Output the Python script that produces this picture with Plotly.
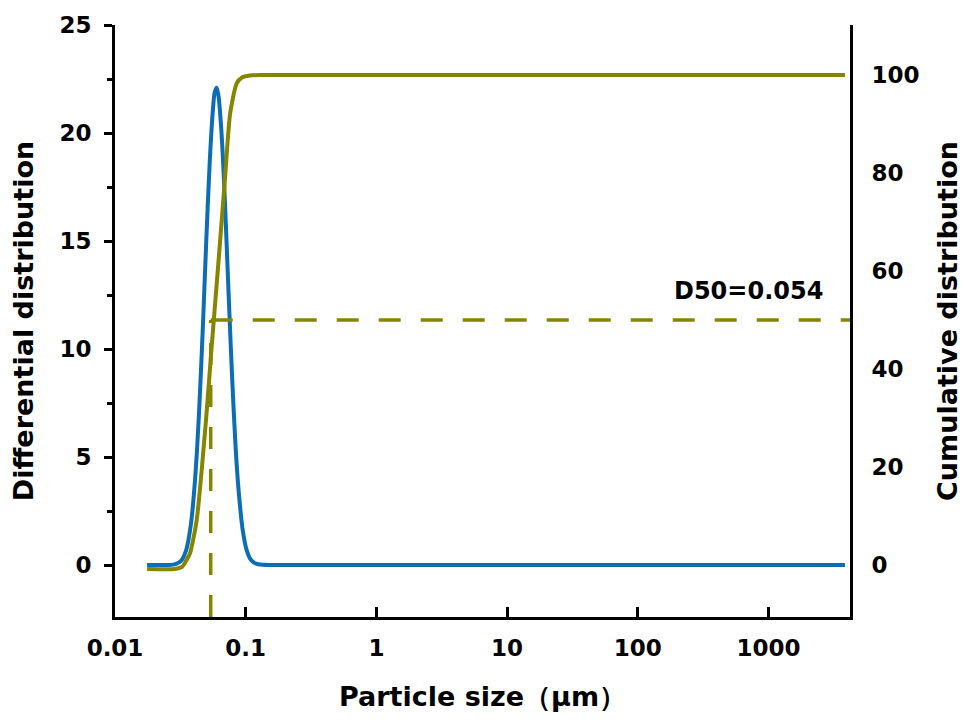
import plotly.graph_objects as go

# Particle size grid (µm) and differential distribution
size_diff = [0.0176, 0.022, 0.026, 0.029, 0.032, 0.035, 0.038, 0.041, 0.044, 0.047,
             0.050, 0.053, 0.056, 0.058, 0.060, 0.062, 0.065, 0.068, 0.071, 0.075,
             0.079, 0.084, 0.089, 0.095, 0.102, 0.110, 0.120, 0.135, 0.16, 0.3,
             1, 10, 100, 1000, 3850]
differential = [0, 0, 0, 0.04, 0.19, 0.68, 1.84, 3.96, 7.1, 11.0,
                15.1, 18.6, 21.0, 21.9, 22.1, 21.7, 20.2, 18.0, 15.3, 11.7,
                8.5, 5.3, 3.2, 1.6, 0.67, 0.23, 0.06, 0.01, 0, 0,
                0, 0, 0, 0, 0]

# Cumulative distribution (%)
size_cum = [0.0176, 0.0288, 0.0326, 0.0349, 0.0375, 0.0422, 0.0497, 0.0549, 0.0607,
            0.0695, 0.0759, 0.0853, 0.0937, 0.108, 0.13, 1, 10, 100, 1000, 3850]
cumulative = [-0.8, -0.8, -0.4, 0.8, 2.4, 9.2, 29.6, 44.5, 59,
              79, 92, 98.3, 99.5, 99.9, 100, 100, 100, 100, 100, 100]

d50 = 0.054
d50_level = 50
x_ticks = [0.01, 0.1, 1, 10, 100, 1000]
x_tick_text = ["0.01", "0.1", "1", "10", "100", "1000"]

BLUE = "#0b6db4"
OLIVE = "#858500"
FONT = "DejaVu Sans"

x_log_range = [-2, 3.624]
y_left_range = [-2.407, 25]
y_right_range = [-10.61, 110.2]

fig = go.Figure()

# D50 guide lines
fig.add_trace(go.Scatter(
    x=[d50, d50], y=[y_right_range[0], d50_level], yaxis="y2", mode="lines",
    line=dict(color=OLIVE, width=3.5, dash="22px,20px"), showlegend=False, hoverinfo="skip"))
fig.add_trace(go.Scatter(
    x=[d50, 10 ** x_log_range[1]], y=[d50_level, d50_level], yaxis="y2", mode="lines",
    line=dict(color=OLIVE, width=3.5, dash="22px,20px"), showlegend=False, hoverinfo="skip"))

fig.add_trace(go.Scatter(
    x=size_cum, y=cumulative, yaxis="y2", mode="lines",
    line=dict(color=OLIVE, width=4, shape="spline", smoothing=0.6),
    name="Cumulative distribution", showlegend=False))
fig.add_trace(go.Scatter(
    x=size_diff, y=differential, yaxis="y", mode="lines",
    line=dict(color=BLUE, width=4, shape="spline", smoothing=0.8),
    name="Differential distribution", showlegend=False))

fig.add_annotation(
    x=3.43, y=56, xref="x", yref="y2", text="D50=0.054", showarrow=False,
    xanchor="right", yanchor="middle",
    font=dict(family=FONT, size=24, color="black", weight="bold"))

fig.update_layout(
    width=975, height=724,
    margin=dict(l=115, r=125, t=25, b=107),
    paper_bgcolor="white", plot_bgcolor="white",
    font=dict(family=FONT, size=23, color="black", weight="bold"),
    xaxis=dict(
        type="log", range=x_log_range, tickvals=x_ticks, ticktext=x_tick_text,
        showline=True, linecolor="black", linewidth=3, mirror=False,
        ticks="inside", ticklen=10, tickwidth=3, tickcolor="black",
        ticklabelstandoff=8,
        showgrid=False, zeroline=False,
        title=dict(text="Particle size（μm）", font=dict(size=27, weight="bold"), standoff=28),
    ),
    yaxis=dict(
        range=y_left_range, tick0=0, dtick=5,
        showline=True, linecolor="black", linewidth=3,
        ticks="outside", ticklen=8, tickwidth=3, tickcolor="black",
        minor=dict(ticks="outside", ticklen=5, tickwidth=3, tickcolor="black", dtick=2.5, tick0=0),
        ticklabelstandoff=8,
        showgrid=False, zeroline=False,
        title=dict(text="Differential distribution", font=dict(size=27, weight="bold"), standoff=18),
    ),
    yaxis2=dict(
        range=y_right_range, tick0=0, dtick=20, overlaying="y", side="right",
        showline=True, linecolor="black", linewidth=3,
        ticks="outside", ticklen=14, tickwidth=1, tickcolor="rgba(0,0,0,0)",
        showgrid=False, zeroline=False,
        title=dict(text="Cumulative distribution", font=dict(size=27, weight="bold"), standoff=20),
    ),
)

fig.write_html("out.html")
